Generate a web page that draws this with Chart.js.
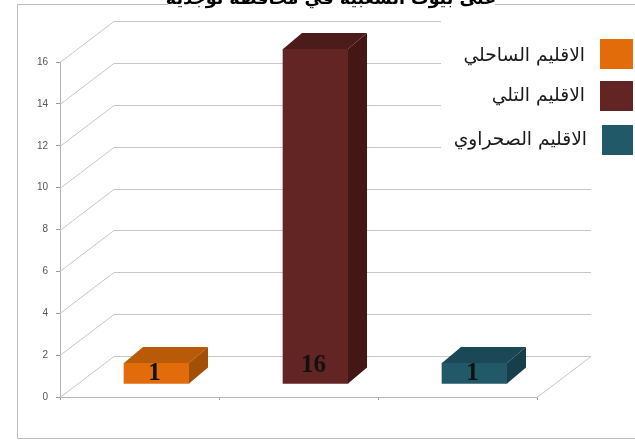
<!DOCTYPE html>
<html lang="ar">
<head>
<meta charset="utf-8">
<title>الاقاليم</title>
<script src="https://cdn.jsdelivr.net/npm/chart.js@4/dist/chart.umd.min.js"></script>
<style>
  html, body { margin: 0; padding: 0; background: #fff; }
  canvas { display: block; }
</style>
</head>
<body>
<canvas id="chart" width="635" height="440"></canvas>
<script>
// Region counts
const regions = ['الاقليم الساحلي', 'الاقليم التلي', 'الاقليم الصحراوي'];
const counts = [1, 16, 1];
const yTicks = [0, 2, 4, 6, 8, 10, 12, 14, 16];
const chartTitle = 'على بيوت الشعبية في محافظة توجدية';

const frontColors = ['#e36c0a', '#632523', '#215968'];
const topColors = ['#b85a08', '#4b1c1a', '#1a4856'];
const sideColors = ['#a34f06', '#421716', '#173f4b'];

const ARABIC_FONT = '"DejaVu Sans", sans-serif';
const GRID = '#c6c6c6';

// Fake 3D: the wall recedes by WALL, bars sit part way in and have their own depth
const WALL = { dx: 54, dy: 41 };
const BAR_SHIFT = { dx: 17, dy: 13 };
const BAR_DEPTH = { dx: 19, dy: 16 };

function poly(ctx, pts, fill) {
  ctx.beginPath();
  pts.forEach((p, i) => (i ? ctx.lineTo(p[0], p[1]) : ctx.moveTo(p[0], p[1])));
  ctx.closePath();
  ctx.fillStyle = fill;
  ctx.fill();
}

const frame = {
  id: 'frame',
  beforeDraw(chart) {
    const ctx = chart.ctx;
    ctx.save();
    ctx.strokeStyle = '#bcbcbc';
    ctx.lineWidth = 1;
    ctx.beginPath();
    ctx.moveTo(635, 4.5);
    ctx.lineTo(17.5, 4.5);
    ctx.lineTo(17.5, 438.5);
    ctx.lineTo(635, 438.5);
    ctx.stroke();
    ctx.restore();
  },
};

const walls = {
  id: 'walls',
  beforeDatasetsDraw(chart) {
    const ctx = chart.ctx;
    const { left, right } = chart.chartArea;
    const y = chart.scales.y;
    ctx.save();
    ctx.strokeStyle = GRID;
    ctx.lineWidth = 1;
    ctx.beginPath();
    yTicks.forEach((t) => {
      const py = Math.round(y.getPixelForValue(t)) + 0.5;
      ctx.moveTo(left, py);
      ctx.lineTo(left + WALL.dx, py - WALL.dy);
      ctx.lineTo(right + WALL.dx, py - WALL.dy);
    });
    // right edge of the floor
    const floor = Math.round(y.getPixelForValue(0)) + 0.5;
    ctx.moveTo(right, floor);
    ctx.lineTo(right + WALL.dx, floor - WALL.dy);
    ctx.stroke();
    ctx.restore();

    // bars are drawn by the library, only moved back from the front plane
    ctx.save();
    ctx.translate(BAR_SHIFT.dx, -BAR_SHIFT.dy);
  },
  afterDatasetsDraw(chart) {
    const ctx = chart.ctx;
    ctx.restore();
    chart.getDatasetMeta(0).data.forEach((bar, i) => {
      const { x, y, base, width } = bar.getProps(['x', 'y', 'base', 'width'], true);
      const l = x - width / 2 + BAR_SHIFT.dx;
      const r = x + width / 2 + BAR_SHIFT.dx;
      const t = y - BAR_SHIFT.dy;
      const b = base - BAR_SHIFT.dy;
      const d = BAR_DEPTH;
      poly(ctx, [[l, t], [l + d.dx, t - d.dy], [r + d.dx, t - d.dy], [r, t]], topColors[i]);
      poly(ctx, [[r, t], [r + d.dx, t - d.dy], [r + d.dx, b - d.dy], [r, b]], sideColors[i]);

      // value label, low down on the front face
      ctx.save();
      ctx.font = 'bold 25px "Liberation Serif", serif';
      ctx.fillStyle = '#111';
      ctx.textAlign = 'center';
      ctx.textBaseline = 'middle';
      ctx.fillText(String(counts[i]), (l + r) / 2 - 2, b - Math.min((b - t) / 2, 18));
      ctx.restore();
    });
  },
};

const legendAndTitle = {
  id: 'legendAndTitle',
  afterDraw(chart) {
    const ctx = chart.ctx;
    ctx.save();

    // legend panel hides the wall lines behind it
    ctx.fillStyle = '#fff';
    ctx.fillRect(441, 10, 194, 155);

    const rows = [
      { x: 600, y: 39, w: 33, textX: 585, textY: 56 },
      { x: 600, y: 81, w: 33, textX: 585, textY: 96 },
      { x: 602, y: 125, w: 31, textX: 587, textY: 140 },
    ];
    ctx.direction = 'rtl';
    ctx.textAlign = 'right';
    ctx.textBaseline = 'middle';
    ctx.font = '18.7px ' + ARABIC_FONT;
    regions.forEach((name, i) => {
      const row = rows[i];
      ctx.fillStyle = frontColors[i];
      ctx.fillRect(row.x, row.y, row.w, 30);
      ctx.fillStyle = '#1a1a1a';
      ctx.fillText(name, row.textX, row.textY);
    });

    // title sits on the frame line, cut by the top edge
    ctx.fillStyle = '#fff';
    ctx.fillRect(168, 0, 327, 10);
    ctx.fillStyle = '#000';
    ctx.textAlign = 'center';
    ctx.textBaseline = 'alphabetic';
    ctx.font = 'bold 17.5px ' + ARABIC_FONT;
    ctx.fillText(chartTitle, 331, 4);
    ctx.restore();
  },
};

new Chart(document.getElementById('chart'), {
  type: 'bar',
  data: {
    labels: regions,
    datasets: [{
      data: counts,
      backgroundColor: frontColors,
      barThickness: 65,
      borderWidth: 0,
    }],
  },
  options: {
    responsive: false,
    animation: false,
    layout: { padding: { top: 62, right: 98, left: 0, bottom: 0 } },
    plugins: {
      legend: { display: false },
      title: { display: false },
      tooltip: { enabled: false },
    },
    scales: {
      x: {
        grid: { drawOnChartArea: false, tickLength: 3, color: '#9a9a9a' },
        border: { color: '#b4b4b4' },
        ticks: { display: false },
        afterFit: (axis) => { axis.height = 43; },
      },
      y: {
        min: 0,
        max: 16,
        grid: { drawOnChartArea: false, tickLength: 4, color: '#9a9a9a' },
        border: { color: '#b4b4b4' },
        ticks: {
          stepSize: 2,
          padding: 8,
          color: '#555',
          font: { family: '"Liberation Sans", sans-serif', size: 10 },
        },
        afterFit: (axis) => { axis.width = 60; },
      },
    },
  },
  plugins: [frame, walls, legendAndTitle],
});
</script>
</body>
</html>
